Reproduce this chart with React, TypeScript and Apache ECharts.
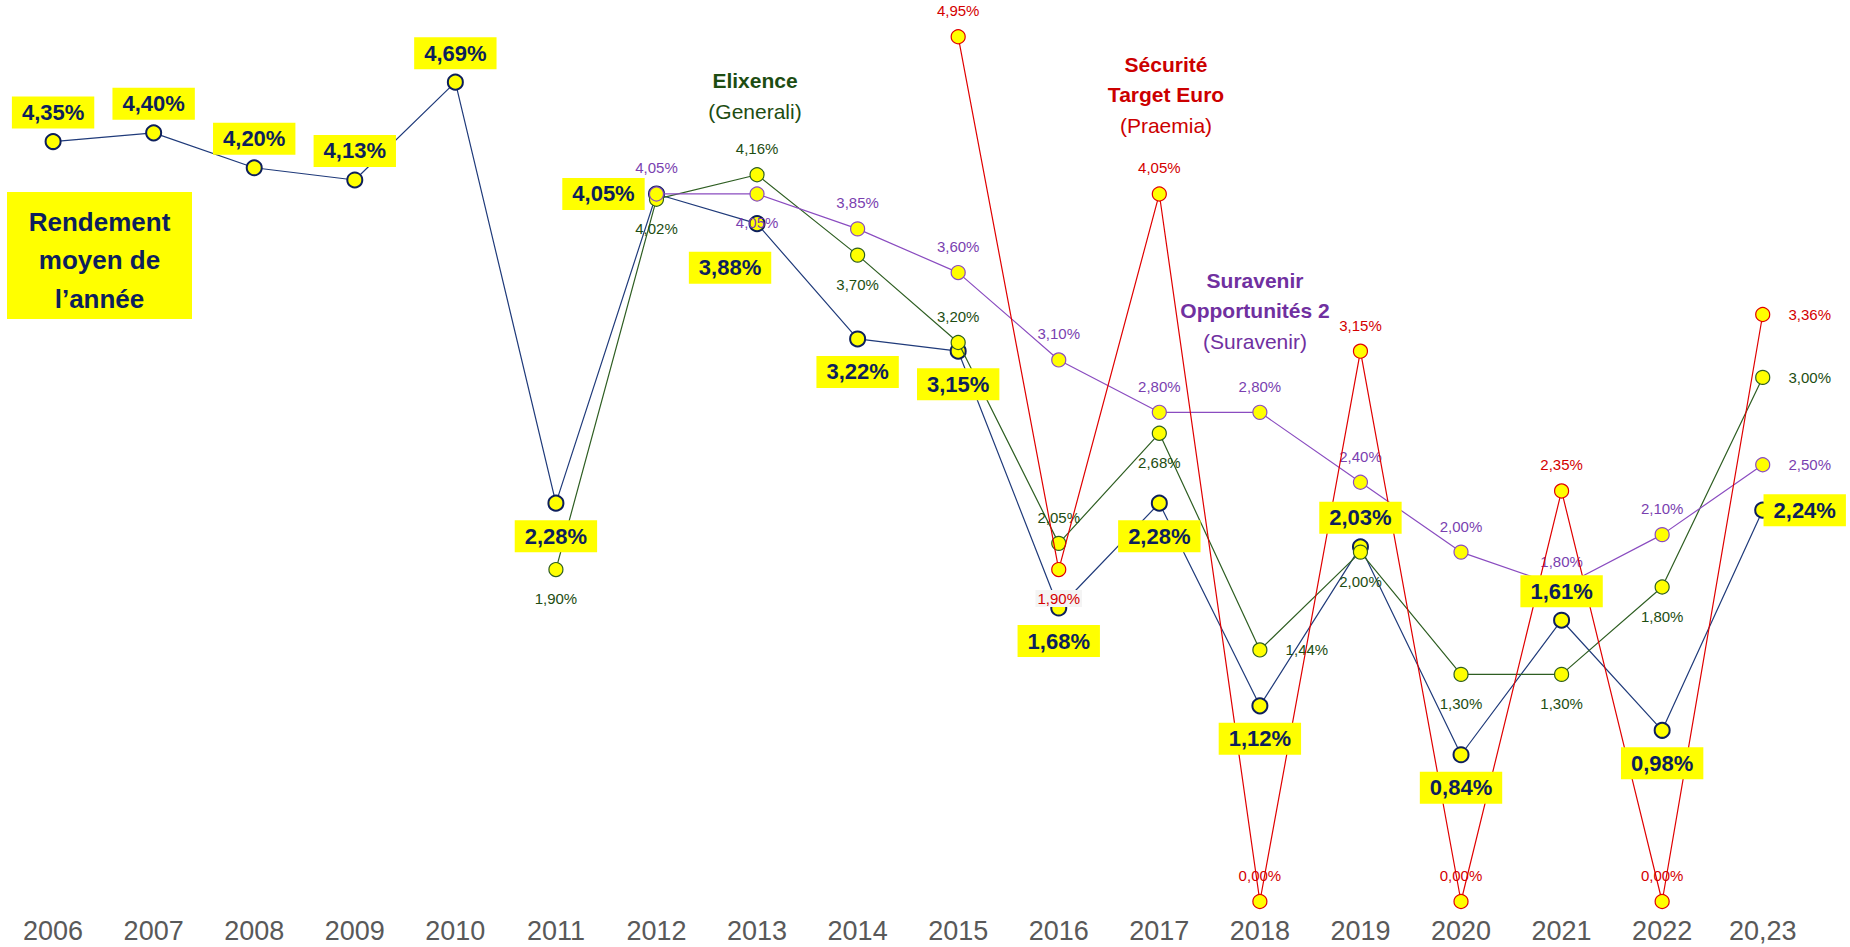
import React, { useEffect, useRef } from 'react';
import * as echarts from 'echarts';

const years = ['2006', '2007', '2008', '2009', '2010', '2011', '2012', '2013', '2014', '2015', '2016', '2017', '2018', '2019', '2020', '2021', '2022', '20,23'];

const rendementMoyen = [4.35, 4.40, 4.20, 4.13, 4.69, 2.28, 4.05, 3.88, 3.22, 3.15, 1.68, 2.28, 1.12, 2.03, 0.84, 1.61, 0.98, 2.24];
const elixence = [null, null, null, null, null, 1.90, 4.02, 4.16, 3.70, 3.20, 2.05, 2.68, 1.44, 2.00, 1.30, 1.30, 1.80, 3.00];
const suravenir = [null, null, null, null, null, null, 4.05, 4.05, 3.85, 3.60, 3.10, 2.80, 2.80, 2.40, 2.00, 1.80, 2.10, 2.50];
const securite = [null, null, null, null, null, null, null, null, null, 4.95, 1.90, 4.05, 0.00, 3.15, 0.00, 2.35, 0.00, 3.36];

// label placement keywords (layout only)
const rendementPlace = ['top', 'top', 'top', 'top', 'top', 'bottom', 'left', 'bottomLeft', 'bottom', 'bottom', 'bottom', 'bottom', 'bottom', 'top', 'bottom', 'top', 'bottom', 'right'];
const elixencePlace = ['', '', '', '', '', 'bottom', 'bottom', 'top', 'bottom', 'top', 'top', 'bottom', 'right', 'bottom', 'bottom', 'bottom', 'bottom', 'right'];
const suravenirPlace = ['', '', '', '', '', '', 'top', 'bottom', 'top', 'top', 'top', 'top', 'top', 'top', 'top', 'top', 'top', 'right'];
const securitePlace = ['', '', '', '', '', '', '', '', '', 'top', 'bottomBg', 'top', 'top', 'top', 'top', 'top', 'top', 'right'];

const FONT = '"Liberation Sans", Arial, sans-serif';
const NAVY = '#0d1f5c';
const GREEN = '#1d4d12';
const PURPLE = '#7a3fb0';
const RED = '#d40000';

const bigOffsets: Record<string, number[]> = {
  top: [0, -29], bottom: [0, 33], left: [-53, 0], bottomLeft: [-27, 44], right: [42, 0],
};
const smallOffsets: Record<string, number[]> = {
  top: [0, -26], bottom: [0, 29], bottomBg: [0, 29], right: [47, 0],
};

const fmt = (v: number) => v.toFixed(2).replace('.', ',') + '%';

function build(values: (number | null)[], places: string[], offsets: Record<string, number[]>) {
  return values.map((v, i) => {
    if (v === null) return null;
    const p = places[i];
    const lab: any = { offset: offsets[p] };
    if (p === 'bottomBg') {
      lab.backgroundColor = '#f4f4f4';
      lab.padding = [1, 2];
    }
    return { value: v, label: lab };
  });
}

export default function App() {
  const ref = useRef<HTMLDivElement>(null);
  useEffect(() => {
    if (!ref.current) return;
    const chart = echarts.init(ref.current, null, { renderer: 'svg' });
    const smallLabel = (color: string) => ({
      show: true,
      position: 'inside',
      formatter: (p: any) => fmt(p.value),
      fontSize: 15,
      fontFamily: FONT,
      color,
    });
    const option: any = {
      animation: false,
      backgroundColor: '#ffffff',
      grid: { left: 2.8, right: 37, top: 28, bottom: 45.5, containLabel: false },
      xAxis: {
        type: 'category',
        data: years,
        boundaryGap: true,
        axisLine: { show: false },
        axisTick: { show: false },
        splitLine: { show: false },
        axisLabel: {
          color: '#595959',
          fontSize: 27,
          fontFamily: FONT,
          margin: 16,
          interval: 0,
        },
      },
      yAxis: {
        type: 'value',
        min: 0,
        max: 5,
        show: false,
        splitLine: { show: false },
      },
      series: [
        {
          name: 'Rendement moyen',
          type: 'line',
          data: rendementMoyen,
          symbol: 'circle',
          symbolSize: 15,
          itemStyle: { color: '#ffff00', borderColor: NAVY, borderWidth: 2 },
          lineStyle: { color: '#1f3a7a', width: 1.2 },
          z: 2,
          label: { show: false },
        },
        {
          name: 'Elixence',
          type: 'line',
          data: build(elixence, elixencePlace, smallOffsets),
          symbol: 'circle',
          symbolSize: 14,
          itemStyle: { color: '#ffff00', borderColor: '#2e5e22', borderWidth: 1.2 },
          lineStyle: { color: '#2e5e22', width: 1.2 },
          z: 3,
          label: smallLabel(GREEN),
        },
        {
          name: 'Suravenir',
          type: 'line',
          data: build(suravenir, suravenirPlace, smallOffsets),
          symbol: 'circle',
          symbolSize: 14,
          itemStyle: { color: '#ffff00', borderColor: '#8a4cc0', borderWidth: 1.2 },
          lineStyle: { color: '#8a4cc0', width: 1.2 },
          z: 4,
          label: smallLabel(PURPLE),
        },
        {
          name: 'Sécurité Target Euro',
          type: 'line',
          data: build(securite, securitePlace, smallOffsets),
          symbol: 'circle',
          symbolSize: 14,
          itemStyle: { color: '#ffff00', borderColor: '#e00000', borderWidth: 1.2 },
          lineStyle: { color: '#e00000', width: 1.2 },
          z: 5,
          label: smallLabel(RED),
        },
        {
          name: 'Rendement moyen (étiquettes)',
          type: 'scatter',
          data: build(rendementMoyen, rendementPlace, bigOffsets),
          symbol: 'circle',
          symbolSize: 1,
          itemStyle: { color: 'rgba(0,0,0,0)', opacity: 1 },
          z: 8,
          silent: true,
          label: {
            show: true,
            position: 'inside',
            formatter: (p: any) => fmt(p.value),
            fontSize: 22,
            fontWeight: 'bold',
            fontFamily: FONT,
            color: NAVY,
            opacity: 1,
            backgroundColor: '#ffff00',
            padding: [5, 10],
          },
        },
      ],
      graphic: [
        {
          type: 'rect',
          shape: { x: 7, y: 192, width: 185, height: 127 },
          style: { fill: '#ffff00' },
          z: 10,
        },
        {
          type: 'text',
          x: 99.5,
          y: 260,
          z: 11,
          style: {
            text: 'Rendement\nmoyen de\nl’année',
            fill: NAVY,
            font: `bold 26px ${FONT}`,
            lineHeight: 38.5,
            align: 'center',
            verticalAlign: 'middle',
          },
        },
        { type: 'text', x: 755, y: 80, style: { text: 'Elixence', fill: GREEN, font: `bold 21px ${FONT}`, align: 'center', verticalAlign: 'middle' } },
        { type: 'text', x: 755, y: 111, style: { text: '(Generali)', fill: GREEN, font: `21px ${FONT}`, align: 'center', verticalAlign: 'middle' } },
        { type: 'text', x: 1166, y: 64, style: { text: 'Sécurité', fill: '#cc0000', font: `bold 21px ${FONT}`, align: 'center', verticalAlign: 'middle' } },
        { type: 'text', x: 1166, y: 94.5, style: { text: 'Target Euro', fill: '#cc0000', font: `bold 21px ${FONT}`, align: 'center', verticalAlign: 'middle' } },
        { type: 'text', x: 1166, y: 125, style: { text: '(Praemia)', fill: '#cc0000', font: `21px ${FONT}`, align: 'center', verticalAlign: 'middle' } },
        { type: 'text', x: 1255, y: 280, style: { text: 'Suravenir', fill: '#7030a0', font: `bold 21px ${FONT}`, align: 'center', verticalAlign: 'middle' } },
        { type: 'text', x: 1255, y: 310.5, style: { text: 'Opportunités 2', fill: '#7030a0', font: `bold 21px ${FONT}`, align: 'center', verticalAlign: 'middle' } },
        { type: 'text', x: 1255, y: 341, style: { text: '(Suravenir)', fill: '#7030a0', font: `21px ${FONT}`, align: 'center', verticalAlign: 'middle' } },
      ],
    };
    chart.setOption(option);
    return () => chart.dispose();
  }, []);
  return (
    <div
      ref={ref}
      style={{ position: 'fixed', left: 0, top: 0, width: 1850, height: 947, background: '#ffffff' }}
    />
  );
}
